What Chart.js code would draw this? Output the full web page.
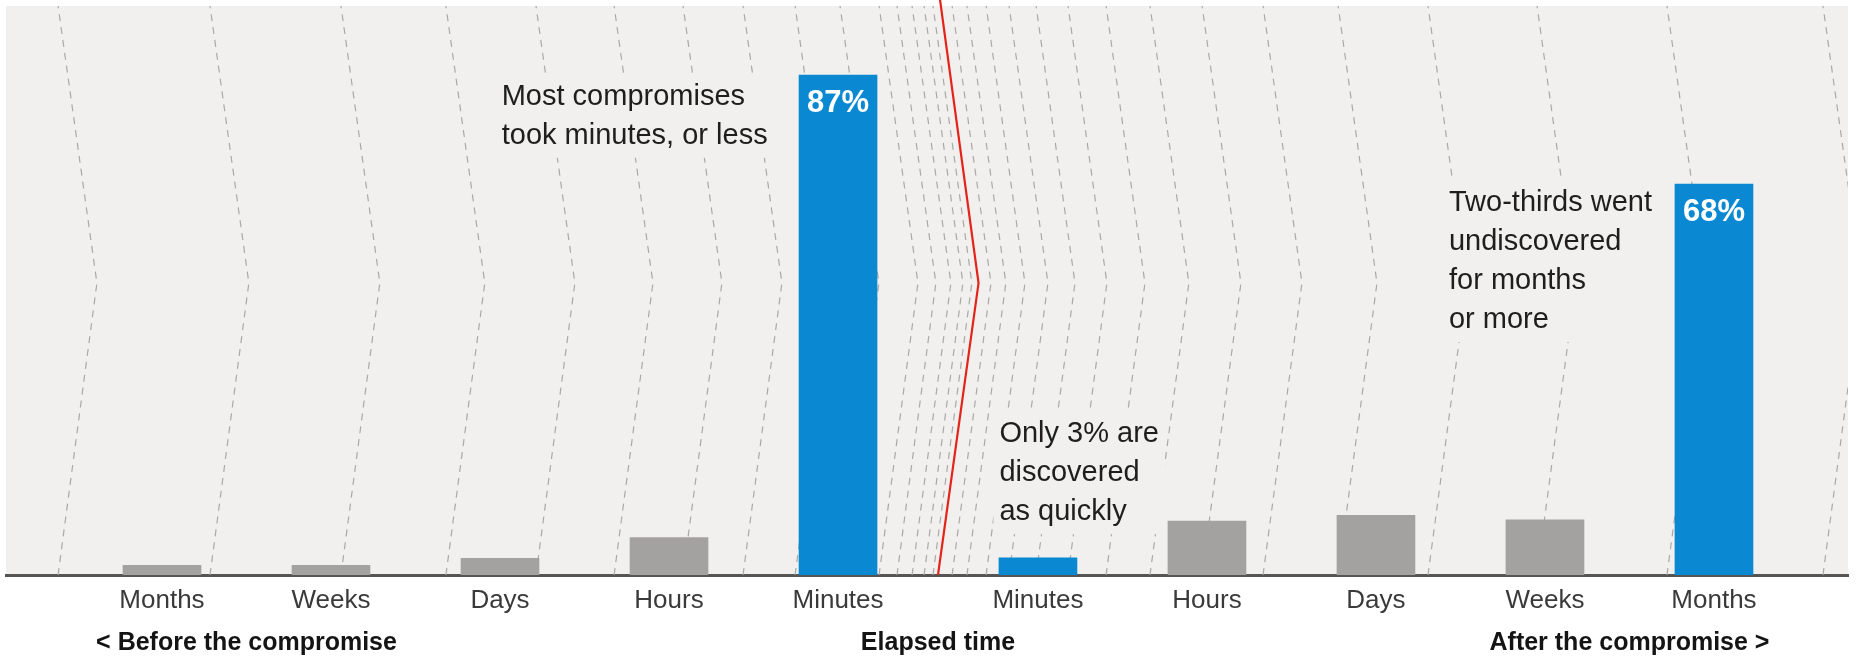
<!DOCTYPE html>
<html>
<head>
<meta charset="utf-8">
<script src="https://cdn.jsdelivr.net/npm/chart.js@4.4.1/dist/chart.umd.min.js"></script>
<style>
  html, body { margin: 0; padding: 0; background: #ffffff; }
  #wrap { width: 1875px; height: 659px; position: relative; }
</style>
</head>
<body>
<div id="wrap"><canvas id="chart" width="1875" height="659"></canvas></div>
<script>
// Share of breaches (%) by elapsed time, before and after the compromise
const beforeLabels = ['Months', 'Weeks', 'Days', 'Hours', 'Minutes'];
const beforeValues = [1.7, 1.7, 2.9, 6.5, 87];
const beforeHighlight = [false, false, false, false, true];
const beforeShowValue = [false, false, false, false, true];

const afterLabels = ['Minutes', 'Hours', 'Days', 'Weeks', 'Months'];
const afterValues = [3, 9.4, 10.4, 9.6, 68];
const afterHighlight = [true, false, false, false, true];
const afterShowValue = [false, false, false, false, true];

// Dashed time guides (in bar-slot units) fanning in toward the break
const guidesBefore = [-0.615, 0.284, 1.059, 1.680, 2.213, 2.675, 3.083, 3.438, 3.746, 4.012, 4.243, 4.349, 4.438, 4.509, 4.562];
const guidesAfter = [4.675, 4.763, 4.876, 5.012, 5.172, 5.361, 5.586, 5.846, 6.154, 6.515, 6.959, 7.491, 8.136, 8.905, 9.828];

// Layout constants
const AFTER_GAP = 0.183;      // extra room around the break
const Y_MAX = 99;
const APEX_LEVEL = 50.8;      // height of the chevron tip
const APEX_SHIFT = 0.23;      // sideways shift of the chevron tip
const BLUE = '#0a88d1';
const GREY = '#a4a2a0';
const BG = '#f1f0ee';
const FONT = "'Liberation Sans', Arial, Helvetica, sans-serif";

// Build positions on the linear x scale
const beforeX = beforeLabels.map((_, i) => i);
const afterX = afterLabels.map((_, j) => beforeLabels.length + AFTER_GAP + j);
const tickValues = beforeX.concat(afterX);
const tickLabels = beforeLabels.concat(afterLabels);
const allValues = beforeValues.concat(afterValues);
const allHighlight = beforeHighlight.concat(afterHighlight);
const allShowValue = beforeShowValue.concat(afterShowValue);
const breakX = (beforeX[beforeX.length - 1] + afterX[0]) / 2;

const barData = tickValues.map((x, i) => ({ x: x, y: allValues[i] }));

const chevron = (x0, top) => [
  { x: x0, y: 0 },
  { x: x0 + APEX_SHIFT, y: APEX_LEVEL },
  { x: x0, y: top }
];

const datasets = [{
  type: 'bar',
  label: 'Share of breaches',
  data: barData,
  backgroundColor: allHighlight.map(h => h ? BLUE : GREY),
  borderWidth: 0,
  barThickness: 78,
  order: 1
}];

guidesBefore.concat(guidesAfter).forEach(g => {
  datasets.push({
    type: 'line',
    data: chevron(g, Y_MAX),
    borderColor: '#a9a9a9',
    borderWidth: 1.2,
    borderDash: [7, 6],
    pointRadius: 0,
    fill: false,
    tension: 0,
    order: 3
  });
});

// The red break between "before" and "after"
datasets.push({
  type: 'line',
  data: [{ x: breakX, y: 0 }, { x: breakX + APEX_SHIFT + 0.01, y: APEX_LEVEL }, { x: breakX + 0.012, y: Y_MAX + 1.1 }],
  borderColor: '#e3241b',
  borderWidth: 2.2,
  pointRadius: 0,
  fill: false,
  tension: 0,
  clip: false,
  order: 2
});

const notes = [
  { lines: ['Most compromises', 'took minutes, or less'], x: 2.01, y: 83.2 },
  { lines: ['Only 3% are', 'discovered', 'as quickly'], x: 4.955, y: 24.5 },
  { lines: ['Two-thirds went', 'undiscovered', 'for months', 'or more'], x: 7.615, y: 64.7 }
];

const captions = [
  { text: '< Before the compromise', x: (beforeX[0] + beforeX[1]) / 2 },
  { text: 'Elapsed time', x: breakX },
  { text: 'After the compromise >', x: (afterX[3] + afterX[4]) / 2 }
];

const backdrop = {
  id: 'backdrop',
  beforeDraw(chart) {
    const a = chart.chartArea, ctx = chart.ctx;
    ctx.save();
    ctx.fillStyle = BG;
    ctx.fillRect(a.left, a.top, a.right - a.left, a.bottom - a.top);
    ctx.restore();
  }
};

const annotate = {
  id: 'annotate',
  afterDatasetsDraw(chart) {
    const ctx = chart.ctx, xs = chart.scales.x, ys = chart.scales.y;
    const a = chart.chartArea;
    ctx.save();
    // Notes, each on a plain patch that hides the guides behind it
    ctx.font = '29px ' + FONT;
    ctx.textBaseline = 'middle';
    ctx.textAlign = 'left';
    const lh = 39;
    notes.forEach(n => {
      const px = xs.getPixelForValue(n.x);
      const py = ys.getPixelForValue(n.y);
      const w = Math.max(...n.lines.map(l => ctx.measureText(l).width));
      ctx.fillStyle = BG;
      ctx.fillRect(px - 6, py - 22, w + 12, lh * (n.lines.length - 1) + 44);
      ctx.fillStyle = '#1e1e1e';
      n.lines.forEach((l, k) => ctx.fillText(l, px, py + k * lh));
    });
    // Value labels inside highlighted bars
    const meta = chart.getDatasetMeta(0);
    ctx.font = 'bold 31px ' + FONT;
    ctx.textAlign = 'center';
    ctx.fillStyle = '#ffffff';
    meta.data.forEach((bar, i) => {
      if (allShowValue[i]) ctx.fillText(allValues[i] + '%', bar.x, bar.y + 28);
    });
    // Axis captions
    ctx.font = 'bold 25px ' + FONT;
    ctx.fillStyle = '#141414';
    captions.forEach(c => ctx.fillText(c.text, xs.getPixelForValue(c.x), a.bottom + 68));
    ctx.restore();
  }
};

new Chart(document.getElementById('chart'), {
  type: 'bar',
  data: { datasets: datasets },
  options: {
    responsive: false,
    animation: false,
    devicePixelRatio: 1,
    layout: { padding: { left: 6, right: 27, top: 6, bottom: 0 } },
    plugins: { legend: { display: false }, tooltip: { enabled: false } },
    scales: {
      x: {
        type: 'linear',
        min: -0.923,
        max: 9.976,
        offset: false,
        grid: { display: false, drawTicks: false, offset: false },
        border: { display: true, color: '#555555', width: 3 },
        afterBuildTicks: scale => { scale.ticks = tickValues.map(v => ({ value: v })); },
        afterFit: scale => { scale.height = 84; },
        ticks: {
          autoSkip: false,
          maxRotation: 0,
          minRotation: 0,
          padding: 10,
          color: '#3a3a3a',
          font: { family: FONT, size: 26 },
          callback: (value, index) => tickLabels[index]
        }
      },
      y: {
        display: false,
        min: 0,
        max: Y_MAX
      }
    }
  },
  plugins: [backdrop, annotate]
});
</script>
</body>
</html>
